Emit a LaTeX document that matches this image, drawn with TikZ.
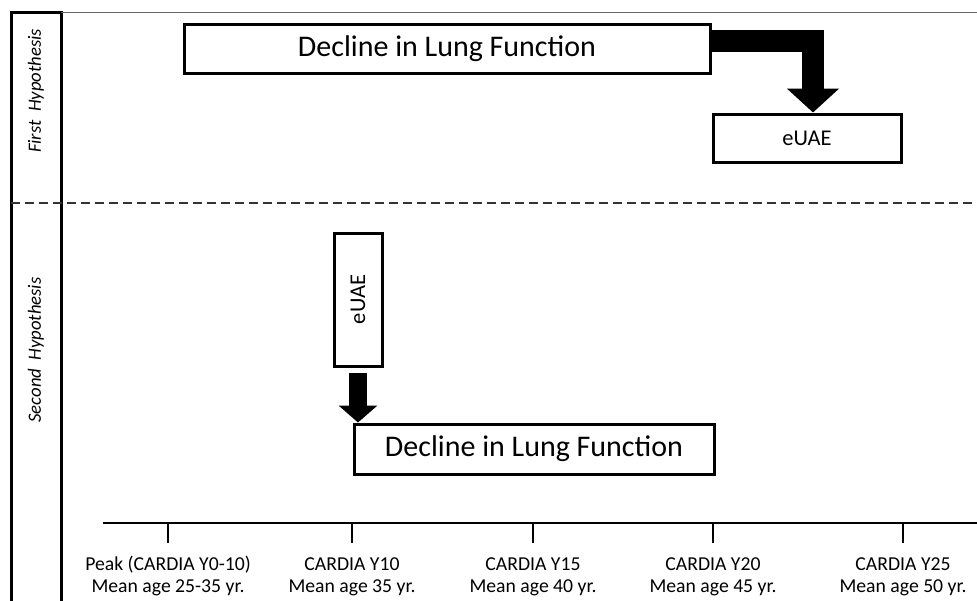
\documentclass[tikz,border=0pt]{standalone}
\usepackage{fontspec}
\setmainfont{Carlito}
\usepackage{graphicx}
\usetikzlibrary{arrows.meta}
\begin{document}
\begin{tikzpicture}[x=1pt,y=-1pt,
  box/.style={draw,line width=3pt,inner sep=0pt,fill=white},
  bigtxt/.style={font=\fontsize{30}{36}\selectfont},
  midtxt/.style={font=\fontsize{22.5}{27}\selectfont},
  lab/.style={font=\fontsize{19.7}{22}\selectfont,inner sep=0pt,anchor=base},
  rottxt/.style={rotate=90,font=\fontsize{18.7}{21}\selectfont\itshape},
  fatarrowA/.style={line width=22pt,-{Triangle[width=51pt,length=24pt]}},
  fatarrowB/.style={line width=18pt,-{Triangle[width=38pt,length=17pt]}},
  dashline/.style={line width=1.3pt,black!80,dash pattern=on 9pt off 5pt},
  thinline/.style={line width=1.3pt,black!60},
  axisline/.style={line width=1.2pt,black}
]
\useasboundingbox (0,0) rectangle (977,600);
% left bar
\draw[line width=3pt] (11,615) -- (11,12) -- (61,12) -- (61,615);
\draw[thinline] (61,12.5) -- (977,12.5);
\draw[dashline] (11,203) -- (977,203);
\node[rottxt] (h1) at (36,91) {First\ \ Hypothesis};
\node[rottxt] (h2) at (36,350) {Second\ \ Hypothesis};
% first hypothesis
\node[box,bigtxt,minimum width=526pt,minimum height=49pt] (lf1) at (447,48.5) {Decline in Lung Function};
\node[box,midtxt,minimum width=188pt,minimum height=48pt] (ua1) at (807,138) {eUAE};
\draw[fatarrowA] ([yshift=-18pt]lf1.north east) -| ([xshift=6pt]ua1.north);
% second hypothesis
\node[box,midtxt,minimum width=48pt,minimum height=133pt] (ua2) at (358,299.5) {\rotatebox{90}{eUAE}};
\node[box,bigtxt,minimum width=360pt,minimum height=50pt] (lf2) at (534,449) {Decline in Lung Function};
\draw[fatarrowB] ([yshift=-5pt]ua2.south) -- (ua2.south |- lf2.north);
% axis
\coordinate (ax0) at (103,523);
\coordinate (ax1) at (977,523);
\draw[axisline] (ax0) -- (ax1);
\foreach \x/\a/\b [count=\i] in {168/{Peak (CARDIA Y0-10)}/{Mean age 25-35 yr.},352/{CARDIA Y10}/{Mean age 35 yr.},533/{CARDIA Y15}/{Mean age 40 yr.},713/{CARDIA Y20}/{Mean age 45 yr.},903/{CARDIA Y25}/{Mean age 50 yr.}}{
  \coordinate (tk\i) at (\x,523);
  \draw[axisline] (tk\i) -- ++(0,20);
  \node[lab] (la\i) at (\x,570) {\a};
  \node[lab] (lb\i) at (\x,592) {\b};
}
\end{tikzpicture}
\end{document}
